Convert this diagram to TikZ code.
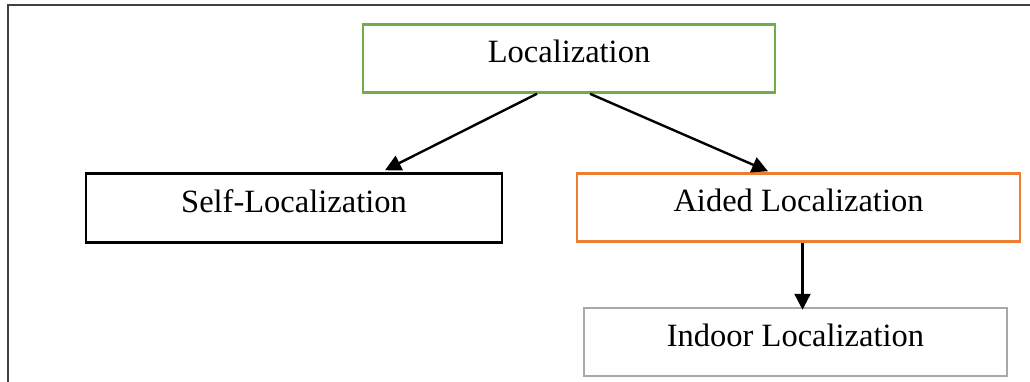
\documentclass[tikz,border=0pt]{standalone}
\usepackage{fontspec}
\setmainfont{Liberation Serif}
\usetikzlibrary{arrows.meta}
\definecolor{boxgreen}{HTML}{70AD47}
\definecolor{boxorange}{HTML}{ED7D31}
\definecolor{boxgray}{HTML}{A8A8A8}
\definecolor{framegray}{HTML}{404040}
\begin{document}
\begin{tikzpicture}[x=1pt,y=-1pt,
  box/.style={draw, line width=2.5pt, inner sep=0pt, text height=22pt, text depth=14pt,
    font=\fontsize{32.5pt}{36pt}\selectfont, minimum height=68pt},
  arr/.style={line width=2.4pt, -{Triangle[length=16pt,width=16pt]}},
  framestyle/.style={draw=framegray, line width=2pt}]
\useasboundingbox (0,0) rectangle (1030,382);
\coordinate (fa) at (8,5.5);
\coordinate (fb) at (1030,5.5);
\coordinate (fc) at (8,382);
\draw[framestyle] (fb) -- (fa) -- (fc);
\node[box, draw=boxgreen, minimum width=412pt] (loc) at (569,58.5) {Localization};
\node[box, draw=black, minimum width=416pt, minimum height=69pt] (self) at (294,208) {Self-Localization};
\node[box, draw=boxorange, minimum width=443pt] (aided) at (798.5,207.5) {Aided Localization};
\node[box, draw=boxgray, minimum width=423pt] (indoor) at (795.5,342) {Indoor Localization};
\draw[arr] ([xshift=-32pt]loc.south) -- ([xshift=91pt,yshift=2pt]self.north);
\draw[arr] ([xshift=21pt]loc.south) -- ([xshift=-30.5pt,yshift=1pt]aided.north);
\draw[arr] ([xshift=4pt]aided.south) -- ([xshift=7pt,yshift=-3pt]indoor.north);
\end{tikzpicture}
\end{document}
